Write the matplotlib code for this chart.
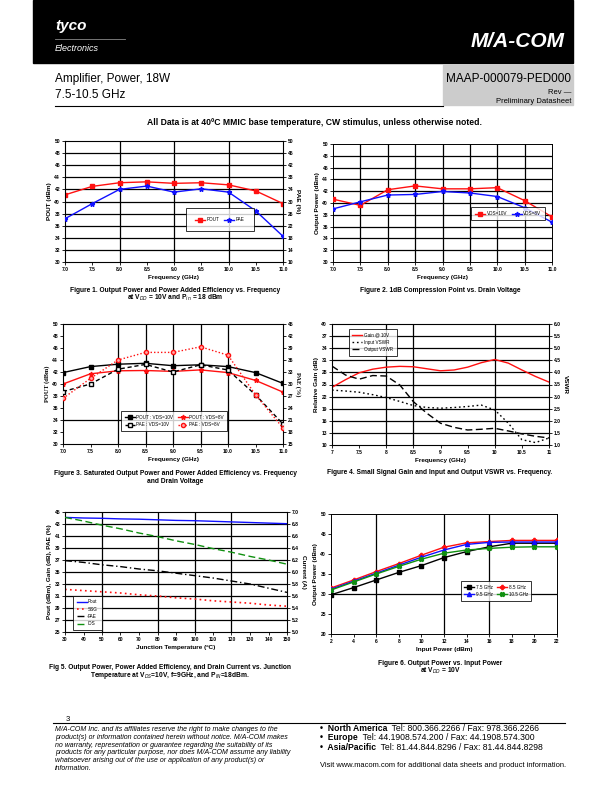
import numpy as np
import matplotlib
matplotlib.use("Agg")
import matplotlib.pyplot as plt
from matplotlib.patches import Rectangle

plt.rcParams['font.family'] = ['Liberation Sans', 'DejaVu Sans']

# ---- data ----
freq = [7.0, 7.5, 8.0, 8.5, 9.0, 9.5, 10.0, 10.5, 11.0]

# fig 1
f1_pout = [41.1, 42.5, 43.1, 43.25, 43.0, 43.1, 42.75, 41.75, 39.65]
f1_pae = [24.3, 29.3, 34.0, 35.1, 33.1, 34.2, 33.1, 26.9, 18.5]

# fig 2
f2_10v = [40.65, 39.6, 42.25, 42.9, 42.4, 42.4, 42.6, 40.4, 37.65]
f2_8v = [39.0, 40.2, 41.35, 41.45, 41.95, 41.7, 41.1, 39.2, 36.75]

# fig 3
f3_pout10 = [41.9, 42.9, 43.3, 43.45, 43.05, 43.2, 42.9, 41.9, 40.1]
f3_pout8 = [40.0, 41.7, 42.2, 42.25, 42.1, 42.35, 41.9, 40.6, 38.65]
f3_pae10 = [28.1, 30.0, 33.7, 34.9, 33.0, 34.8, 33.5, 27.3, 20.0]
f3_pae8 = [26.4, 31.4, 36.0, 37.9, 37.9, 39.3, 37.2, 27.3, 19.0]

# fig 4
f4_freq = [7.0, 7.25, 7.5, 7.75, 8.0, 8.25, 8.5, 8.75, 9.0, 9.25, 9.5, 9.75,
           10.0, 10.25, 10.5, 10.75, 11.0]
f4_gain = [24.3, 26.2, 27.9, 28.8, 29.3, 29.5, 29.4, 28.9, 28.4, 28.6, 29.3,
           30.4, 31.2, 30.3, 28.6, 27.0, 25.6]
f4_invswr = [3.27, 3.23, 3.18, 3.08, 2.96, 2.80, 2.63, 2.55, 2.52, 2.55, 2.59,
             2.65, 2.45, 1.90, 1.22, 1.10, 1.29]
f4_outvswr = [4.26, 3.89, 3.72, 3.87, 3.85, 3.48, 2.79, 2.31, 1.90, 1.73, 1.62,
              1.65, 1.69, 1.58, 1.46, 1.36, 1.29]

# fig 5
tj = [30, 40, 50, 60, 70, 80, 90, 100, 110, 120, 130, 140, 150]
f5_pout = [44.1, 44.0, 43.95, 43.85, 43.8, 43.7, 43.6, 43.55, 43.45, 43.35, 43.25, 43.15, 43.05]
f5_ssg = [32.1, 31.9, 31.7, 31.5, 31.2, 31.0, 30.7, 30.5, 30.2, 30.0, 29.8, 29.5, 29.3]
f5_pae = [36.9, 36.6, 36.2, 35.9, 35.5, 35.2, 34.8, 34.4, 34.0, 33.5, 33.0, 32.3, 31.6]
f5_ids = [6.91, 6.85, 6.78, 6.72, 6.65, 6.59, 6.52, 6.46, 6.39, 6.33, 6.26, 6.20, 6.13]

# fig 6
pin = [2, 4, 6, 8, 10, 12, 14, 16, 18, 20, 22]
f6_75 = [29.8, 31.6, 33.5, 35.4, 37.1, 39.1, 40.6, 41.8, 42.7, 42.7, 42.7]
f6_85 = [31.5, 33.5, 35.6, 37.6, 39.7, 41.7, 42.8, 43.1, 43.4, 43.4, 43.4]
f6_95 = [31.2, 33.2, 35.2, 37.2, 39.2, 41.0, 42.4, 42.9, 43.0, 43.0, 43.0]
f6_105 = [31.0, 33.0, 35.0, 36.9, 38.7, 40.2, 41.0, 41.4, 41.7, 41.8, 41.8]

W, H = 612, 792
fig = plt.figure(figsize=(W / 100, H / 100), dpi=100)

TS = 3.6   # tick font
LS = 4.6   # axis label font
CS = 4.8   # caption font


def mkax(l, r, t, b):
    return fig.add_axes([l / W, 1 - b / H, (r - l) / W, (b - t) / H])


def style(ax, xt, xl, yt, yl, xlab, ylab, serif=False):
    ax.set_xlim(xt[0], xt[-1])
    ax.set_ylim(yt[0], yt[-1])
    ax.set_xticks(xt)
    ax.set_xticklabels(xl, fontsize=TS, fontweight='bold')
    ax.set_yticks(yt)
    ax.set_yticklabels(yl, fontsize=TS, fontweight='bold')
    ax.tick_params(direction='out', length=2, width=0.6, pad=1.5)
    for s in ax.spines.values():
        s.set_linewidth(0.7)
    fam = ['Liberation Serif'] if serif else None
    ax.set_xlabel(xlab, fontsize=LS, fontweight='bold', labelpad=2)
    ax.set_ylabel(ylab, fontsize=LS, fontweight='bold', labelpad=2,
                  family=fam)


def right(ax, yt, yl, lab, serif=False):
    a2 = ax.twinx()
    a2.set_ylim(yt[0], yt[-1])
    a2.set_yticks(yt)
    a2.set_yticklabels(yl, fontsize=TS, fontweight='bold')
    a2.tick_params(direction='out', length=2, width=0.6, pad=1.5)
    fam = ['Liberation Serif'] if serif else None
    a2.set_ylabel(lab, fontsize=LS, fontweight='bold', rotation=-90,
                  labelpad=5, family=fam)
    return a2


def hgrid(ax, vals):
    for v in vals:
        ax.axhline(v, color='black', lw=0.9, zorder=1)


def vgrid(ax, vals):
    for v in vals:
        ax.axvline(v, color='black', lw=0.9, zorder=1)


def leg(ax, handles, labels, cx, cy, ncol, pad=0.8):
    lg = ax.legend(handles, labels, loc='center', bbox_to_anchor=(cx, cy),
                   ncol=ncol, fontsize=3.3, frameon=True, fancybox=False,
                   edgecolor='black', handlelength=2.2, columnspacing=1.0,
                   borderpad=pad, handletextpad=0.3, labelspacing=0.5)
    lg.get_frame().set_linewidth(0.7)
    lg.set_zorder(10)
    return lg


ftick = [f'{v:.1f}' for v in freq]

# ---------- Figure 1 ----------
ax = mkax(65, 283, 141, 262)
yt = list(range(30, 51, 2))
style(ax, freq, ftick, yt, [str(v) for v in yt], 'Frequency (GHz)', 'POUT (dBm)')
hgrid(ax, yt[1:-1])
vgrid(ax, [8.0, 9.0, 10.0])
a2 = right(ax, list(range(10, 51, 4)), [str(v) for v in range(10, 51, 4)], 'PAE (%)')
h1, = ax.plot(freq, f1_pout, color='#ff1010', lw=1.0, marker='s', ms=3.2, zorder=5)
h2, = a2.plot(freq, f1_pae, color='#1010ff', lw=1.0, marker='*', ms=3.5, zorder=5)
leg(a2, [h1, h2], ['POUT', 'PAE'], 0.71, 0.35, 2, pad=2.0)
fig.text(175 / W, 1 - 292 / H, 'Figure 1. Output Power and Power Added Efficiency vs. Frequency',
         ha='center', fontsize=CS, fontweight='bold')
fig.text(175 / W, 1 - 300 / H, 'at V$_{DD}$ = 10V and P$_{in}$ = 18 dBm',
         ha='center', fontsize=CS, fontweight='bold')

# ---------- Figure 2 ----------
ax = mkax(333, 552, 144, 262)
style(ax, freq, ftick, yt, [str(v) for v in yt], 'Frequency (GHz)', 'Output Power (dBm)')
hgrid(ax, yt[1:-1])
vgrid(ax, freq[1:-1])
h1, = ax.plot(freq, f2_10v, color='#ff1010', lw=1.0, marker='s', ms=3.2, zorder=5)
h2, = ax.plot(freq, f2_8v, color='#1010ff', lw=1.0, marker='*', ms=3.5, zorder=5)
leg(ax, [h1, h2], ['VDS=10V', 'VDS=8V'], 0.80, 0.41, 2)
fig.text(440 / W, 1 - 292 / H, 'Figure 2. 1dB Compression Point vs. Drain Voltage',
         ha='center', fontsize=CS, fontweight='bold')

# ---------- Figure 3 ----------
ax = mkax(63, 283, 324, 444)
style(ax, freq, ftick, yt, [str(v) for v in yt], 'Frequency (GHz)', 'POUT (dBm)', serif=True)
hgrid(ax, [34])
vgrid(ax, [8.0, 8.5, 9.0, 9.5, 10.0])
r3 = list(range(15, 46, 3))
a2 = right(ax, r3, [str(v) for v in r3], 'PAE (%)', serif=True)
h1, = ax.plot(freq, f3_pout10, color='black', lw=1.0, marker='s', ms=3.0, zorder=5)
h2, = ax.plot(freq, f3_pout8, color='#ff1010', lw=1.0, marker='*', ms=3.5, zorder=5)
h3, = a2.plot(freq, f3_pae10, color='black', lw=1.0, ls=(0, (3, 2)), marker='s', ms=3.0,
              mfc='white', zorder=5)
h4, = a2.plot(freq, f3_pae8, color='#ff1010', lw=1.0, ls=(0, (1, 1.5)), marker='o', ms=3.0,
              mfc='#ffaaaa', zorder=5)
leg(a2, [h1, h3, h2, h4], ['POUT : VDS=10V', 'PAE : VDS=10V', 'POUT : VDS=8V', 'PAE : VDS=8V'],
    0.505, 0.19, 2)
fig.text(175 / W, 1 - 475 / H,
         'Figure 3. Saturated Output Power and Power Added Efficiency vs. Frequency',
         ha='center', fontsize=CS, fontweight='bold')
fig.text(175 / W, 1 - 483 / H, 'and Drain Voltage', ha='center', fontsize=CS, fontweight='bold')

# ---------- Figure 4 ----------
ax = mkax(332, 549, 324, 445)
g4 = list(range(10, 41, 3))
style(ax, freq, ['7', '7.5', '8', '8.5', '9', '9.5', '10', '10.5', '11'], g4,
      [str(v) for v in g4], 'Frequency (GHz)', 'Relative Gain (dB)')
hgrid(ax, g4[1:-1])
vgrid(ax, [8.0, 8.5, 10.0])
v4 = [1.0 + 0.5 * i for i in range(11)]
a2 = right(ax, v4, [f'{v:.1f}' for v in v4], 'VSWR')
h1, = ax.plot(f4_freq, f4_gain, color='#ff1010', lw=1.0, zorder=5)
h2, = a2.plot(f4_freq, f4_invswr, color='black', lw=1.0, ls=(0, (1.2, 2)), zorder=5)
h3, = a2.plot(f4_freq, f4_outvswr, color='black', lw=1.0, ls=(0, (5, 2.5)), zorder=5)
leg(a2, [h1, h2, h3], ['Gain @ 10V', 'Input VSWR', 'Output VSWR'], 0.187, 0.85, 1)
fig.text(440 / W, 1 - 474 / H,
         'Figure 4. Small Signal Gain and Input and Output VSWR vs. Frequency.',
         ha='center', fontsize=CS, fontweight='bold')

# ---------- Figure 5 ----------
ax = mkax(65, 287, 512, 632)
g5 = list(range(25, 46, 2))
style(ax, tj, [str(v) for v in tj], g5, [str(v) for v in g5],
      'Junction Temperature (ºC)', 'Pout (dBm), Gain (dB), PAE (%)')
hgrid(ax, g5[1:-1])
vgrid(ax, [50, 80, 100, 120])
c5 = [5.0 + 0.2 * i for i in range(11)]
a2 = right(ax, c5, [f'{v:.1f}' for v in c5], 'Current (A)')
h1, = ax.plot(tj, f5_pout, color='#1010ff', lw=1.0, zorder=5)
h2, = ax.plot(tj, f5_ssg, color='#ff1010', lw=1.2, ls=(0, (1, 2)), zorder=5)
h3, = ax.plot(tj, f5_pae, color='black', lw=1.0, ls=(0, (5, 2, 1, 2)), zorder=5)
h4, = a2.plot(tj, f5_ids, color='#109010', lw=1.0, ls=(0, (5, 2.5)), zorder=5)
leg(a2, [h1, h2, h3, h4], ['Pout', 'SSG', 'PAE', 'IDS'], 0.10, 0.16, 1)
fig.text(170 / W, 1 - 669 / H,
         'Fig 5. Output Power, Power Added Efficiency, and Drain Current vs. Junction',
         ha='center', fontsize=CS, fontweight='bold')
fig.text(170 / W, 1 - 677 / H,
         'Temperature at V$_{DS}$=10V, f=9GHz, and P$_{IN}$=18dBm.',
         ha='center', fontsize=CS, fontweight='bold')

# ---------- Figure 6 ----------
ax = mkax(331, 557, 514, 634)
g6 = list(range(20, 51, 5))
style(ax, pin, [str(v) for v in pin], g6, [str(v) for v in g6],
      'Input Power (dBm)', 'Output Power (dBm)')
hgrid(ax, [30])
vgrid(ax, [6, 12, 16])
h1, = ax.plot(pin, f6_75, color='black', lw=1.0, marker='s', ms=3.0, zorder=5)
h2, = ax.plot(pin, f6_85, color='#ff1010', lw=1.0, marker='P', ms=3.0, zorder=5)
h3, = ax.plot(pin, f6_95, color='#1010ff', lw=1.0, marker='^', ms=3.0, zorder=5)
h4, = ax.plot(pin, f6_105, color='#109010', lw=1.0, marker='X', ms=3.0, zorder=5)
leg(ax, [h1, h3, h2, h4], ['7.5 GHz', '9.5 GHz', '8.5 GHz', '10.5 GHz'], 0.73, 0.36, 2)
fig.text(440 / W, 1 - 665 / H, 'Figure 6. Output Power vs. Input Power',
         ha='center', fontsize=CS, fontweight='bold')
fig.text(440 / W, 1 - 673 / H, 'at V$_{DD}$ = 10V', ha='center', fontsize=CS, fontweight='bold')

# ---------- header ----------
fig.patches.append(Rectangle((33 / W, 1 - 63 / H), 540 / W, 63 / H, transform=fig.transFigure,
                             color='black', zorder=0))
fig.text(55 / W, 1 - 30 / H, 'tyco', color='white', fontsize=11, fontweight='bold',
         style='italic')
fig.lines.append(plt.Line2D([55 / W, 125 / W], [1 - 39 / H, 1 - 39 / H],
                            transform=fig.transFigure, color='#888888', lw=0.6))
fig.text(55 / W, 1 - 51 / H, 'Electronics', color='white', fontsize=6.5, style='italic')
fig.text(565 / W, 1 - 47 / H, 'M/A-COM', color='white', fontsize=15, fontweight='bold',
         style='italic', ha='right')
fig.patches.append(Rectangle((443 / W, 1 - 105 / H), 130 / W, 40 / H, transform=fig.transFigure,
                             color='#cccccc', zorder=0))
fig.text(55 / W, 1 - 82 / H, 'Amplifier, Power, 18W', fontsize=8.5)
fig.text(55 / W, 1 - 98 / H, '7.5-10.5 GHz', fontsize=8.5)
fig.text(571 / W, 1 - 82 / H, 'MAAP-000079-PED000', fontsize=8.5, ha='right')
fig.text(571 / W, 1 - 94 / H, 'Rev \u2014', fontsize=5.5, ha='right')
fig.text(571 / W, 1 - 103 / H, 'Preliminary Datasheet', fontsize=5.5, ha='right')
fig.lines.append(plt.Line2D([55 / W, 443 / W], [1 - 106 / H, 1 - 106 / H],
                            transform=fig.transFigure, color='black', lw=0.8))
fig.text(315 / W, 1 - 125 / H,
         'All Data is at 40\u00baC MMIC base temperature, CW stimulus, unless otherwise noted.',
         ha='center', fontsize=6.2, fontweight='bold')

# ---------- footer ----------
fig.text(66 / W, 1 - 721 / H, '3', fontsize=5.5)
fig.lines.append(plt.Line2D([53 / W, 565 / W], [1 - 723 / H, 1 - 723 / H],
                            transform=fig.transFigure, color='black', lw=0.8))
disc = ['M/A-COM Inc. and its affiliates reserve the right to make changes to the',
        'product(s) or information contained herein without notice. M/A-COM makes',
        'no warranty, representation or guarantee regarding the suitability of its',
        'products for any particular purpose, nor does M/A-COM assume any liability',
        'whatsoever arising out of the use or application of any product(s) or',
        'information.']
for i, s in enumerate(disc):
    fig.text(55 / W, 1 - (731 + 7.8 * i) / H, s, fontsize=5.0, style='italic')
contacts = [('North America', '  Tel: 800.366.2266 / Fax: 978.366.2266'),
            ('Europe', '  Tel: 44.1908.574.200 / Fax: 44.1908.574.300'),
            ('Asia/Pacific', '  Tel: 81.44.844.8296 / Fax: 81.44.844.8298')]
for i, (a, b) in enumerate(contacts):
    y = 1 - (731 + 9.5 * i) / H
    t = fig.text(320 / W, y, '\u2022  ' + a, fontsize=6.2, fontweight='bold')
    fig.canvas.draw()
    bb = t.get_window_extent()
    fig.text(bb.x1 / W, y, b, fontsize=6.2)
fig.text(320 / W, 1 - 767 / H,
         'Visit www.macom.com for additional data sheets and product information.',
         fontsize=5.4)

fig.savefig('out.png', dpi=100)
